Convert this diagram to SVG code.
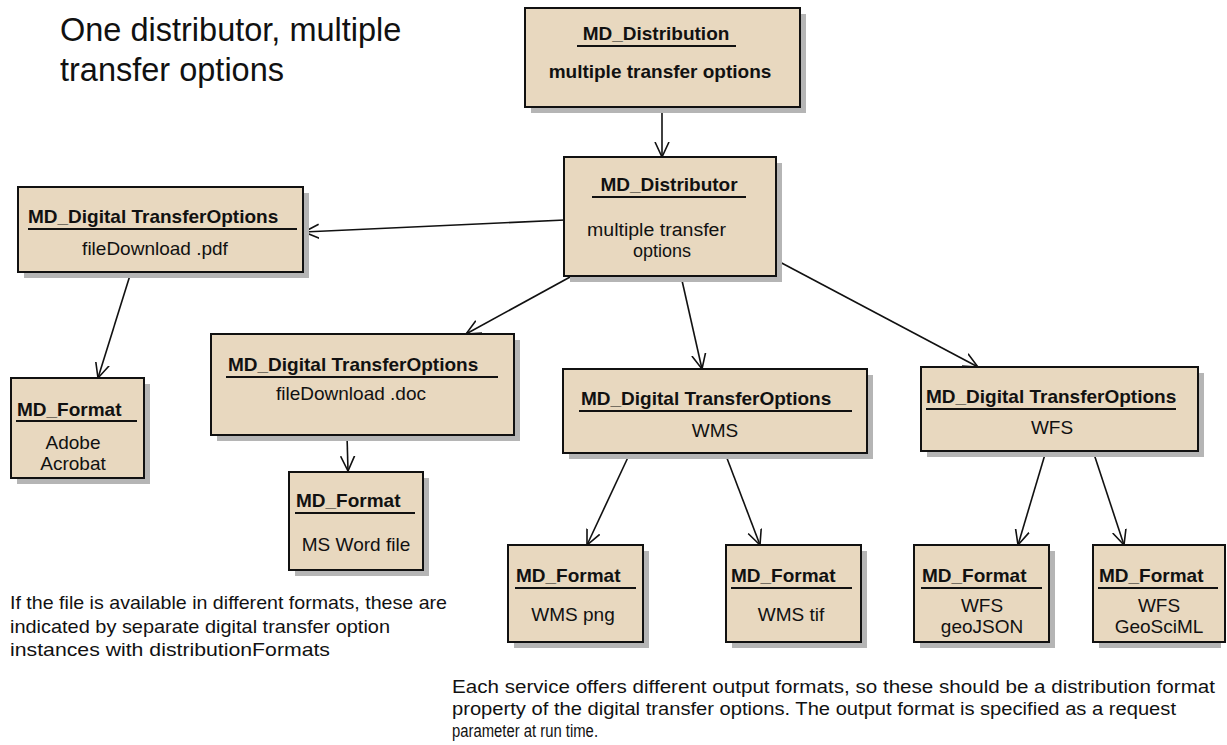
<svg xmlns="http://www.w3.org/2000/svg" width="1227" height="745" viewBox="0 0 1227 745">
<style>
.sh{fill:#b5b5b5}
.bx{fill:#e8d8bf;stroke:#111;stroke-width:2}
.t{font-family:"Liberation Sans",Arial,sans-serif;font-weight:bold;font-size:19px;fill:#111}
.b{font-family:"Liberation Sans",Arial,sans-serif;font-size:19px;fill:#111}
.ul{stroke:#111;stroke-width:2}
.c{stroke:#111;stroke-width:1.6;fill:none;marker-end:url(#ah)}
.note{font-family:"Liberation Sans",Arial,sans-serif;font-size:19px;fill:#111}
.note2{font-family:"Liberation Sans",Arial,sans-serif;font-size:17.5px;fill:#111}
.ttl{font-family:"Liberation Sans",Arial,sans-serif;font-size:32.5px;fill:#111}
</style>
<defs>
<marker id="ah" markerUnits="userSpaceOnUse" viewBox="0 0 16 16" refX="15" refY="8" markerWidth="16" markerHeight="16" orient="auto">
<path d="M0,1 L15,8 L0,15" fill="none" stroke="#111" stroke-width="1.6"/>
</marker>
</defs>
<rect width="1227" height="745" fill="#fff"/>
<g id="title">
<text class="ttl" x="60" y="41">One distributor, multiple</text>
<text class="ttl" x="60" y="81">transfer options</text>
</g>
<g id="connectors">
<line class="c" x1="662" y1="107" x2="662" y2="157"/>
<line class="c" x1="565" y1="220" x2="304" y2="232"/>
<line class="c" x1="131" y1="272" x2="98" y2="378"/>
<line class="c" x1="592" y1="265" x2="466" y2="334"/>
<line class="c" x1="347" y1="435" x2="348" y2="471"/>
<line class="c" x1="681" y1="276" x2="702" y2="369"/>
<line class="c" x1="776" y1="260" x2="978" y2="367"/>
<line class="c" x1="630" y1="453" x2="587" y2="545"/>
<line class="c" x1="725" y1="453" x2="760" y2="545"/>
<line class="c" x1="1046" y1="451" x2="1018" y2="545"/>
<line class="c" x1="1093" y1="451" x2="1124" y2="545"/>
</g>
<g id="distribution">
<rect class="sh" x="531" y="14" width="275" height="99"/>
<rect class="bx" x="525" y="8" width="275" height="99"/>
<text class="t" x="656" y="40" text-anchor="middle">MD_Distribution</text>
<line class="ul" x1="577" y1="46" x2="736" y2="46"/>
<text class="t" x="660" y="78" text-anchor="middle">multiple transfer options</text>
</g>
<g id="distributor">
<rect class="sh" x="570" y="163" width="212" height="119"/>
<rect class="bx" x="564" y="157" width="212" height="119"/>
<text class="t" x="669" y="191" text-anchor="middle">MD_Distributor</text>
<line class="ul" x1="592" y1="197" x2="746" y2="197"/>
<text class="b" x="587" y="236" style="font-size:18px" textLength="139" lengthAdjust="spacingAndGlyphs">multiple transfer</text>
<text class="b" x="633" y="257" style="font-size:18px">options</text>
</g>
<g id="dto-pdf">
<rect class="sh" x="24" y="193" width="285" height="85"/>
<rect class="bx" x="18" y="187" width="285" height="85"/>
<text class="t" x="28" y="223">MD_Digital TransferOptions</text>
<line class="ul" x1="28" y1="229" x2="297" y2="229"/>
<text class="b" x="155" y="255" text-anchor="middle">fileDownload .pdf</text>
</g>
<g id="fmt-acrobat">
<rect class="sh" x="17" y="384" width="133" height="100"/>
<rect class="bx" x="11" y="378" width="133" height="100"/>
<text class="t" x="17" y="416">MD_Format</text>
<line class="ul" x1="16" y1="421" x2="137" y2="421"/>
<text class="b" x="73" y="449" text-anchor="middle">Adobe</text>
<text class="b" x="73" y="470" text-anchor="middle">Acrobat</text>
</g>
<g id="dto-doc">
<rect class="sh" x="217" y="340" width="303" height="101"/>
<rect class="bx" x="211" y="334" width="303" height="101"/>
<text class="t" x="228" y="371">MD_Digital TransferOptions</text>
<line class="ul" x1="226" y1="377" x2="498" y2="377"/>
<text class="b" x="351" y="400" text-anchor="middle">fileDownload .doc</text>
</g>
<g id="fmt-word">
<rect class="sh" x="295" y="478" width="134" height="98"/>
<rect class="bx" x="289" y="472" width="134" height="98"/>
<text class="t" x="296" y="507">MD_Format</text>
<line class="ul" x1="295" y1="513" x2="415" y2="513"/>
<text class="b" x="356" y="551" text-anchor="middle">MS Word file</text>
</g>
<g id="dto-wms">
<rect class="sh" x="569" y="375" width="304" height="84"/>
<rect class="bx" x="563" y="369" width="304" height="84"/>
<text class="t" x="581" y="405">MD_Digital TransferOptions</text>
<line class="ul" x1="579" y1="411" x2="852" y2="411"/>
<text class="b" x="715" y="437" text-anchor="middle">WMS</text>
</g>
<g id="dto-wfs">
<rect class="sh" x="927" y="373" width="277" height="84"/>
<rect class="bx" x="921" y="367" width="277" height="84"/>
<text class="t" x="926" y="403">MD_Digital TransferOptions</text>
<line class="ul" x1="926" y1="409" x2="1176" y2="409"/>
<text class="b" x="1052" y="434" text-anchor="middle">WFS</text>
</g>
<g id="fmt-png">
<rect class="sh" x="514" y="551" width="135" height="97"/>
<rect class="bx" x="508" y="545" width="135" height="97"/>
<text class="t" x="516" y="582">MD_Format</text>
<line class="ul" x1="515" y1="588" x2="636" y2="588"/>
<text class="b" x="573" y="621" text-anchor="middle">WMS png</text>
</g>
<g id="fmt-tif">
<rect class="sh" x="732" y="551" width="135" height="97"/>
<rect class="bx" x="726" y="545" width="135" height="97"/>
<text class="t" x="731" y="582">MD_Format</text>
<line class="ul" x1="731" y1="588" x2="852" y2="588"/>
<text class="b" x="791" y="621" text-anchor="middle">WMS tif</text>
</g>
<g id="fmt-geojson">
<rect class="sh" x="920" y="551" width="135" height="97"/>
<rect class="bx" x="914" y="545" width="135" height="97"/>
<text class="t" x="922" y="582">MD_Format</text>
<line class="ul" x1="921" y1="588" x2="1042" y2="588"/>
<text class="b" x="982" y="612" text-anchor="middle">WFS</text>
<text class="b" x="982" y="633" text-anchor="middle">geoJSON</text>
</g>
<g id="fmt-geosciml">
<rect class="sh" x="1099" y="551" width="122" height="97"/>
<rect class="bx" x="1093" y="545" width="132" height="97"/>
<text class="t" x="1099" y="582">MD_Format</text>
<line class="ul" x1="1098" y1="588" x2="1218" y2="588"/>
<text class="b" x="1159" y="612" text-anchor="middle">WFS</text>
<text class="b" x="1159" y="633" text-anchor="middle">GeoSciML</text>
</g>
<g id="note-left">
<text class="note" x="10" y="609" textLength="437" lengthAdjust="spacingAndGlyphs">If the file is available in different formats, these are</text>
<text class="note" x="10" y="633" textLength="380" lengthAdjust="spacingAndGlyphs">indicated by separate digital transfer option</text>
<text class="note" x="10" y="656" textLength="320" lengthAdjust="spacingAndGlyphs">instances with distributionFormats</text>
</g>
<g id="note-right">
<text class="note2" x="452" y="693" textLength="763" lengthAdjust="spacingAndGlyphs">Each service offers different output formats, so these should be a distribution format</text>
<text class="note2" x="452" y="715" textLength="724" lengthAdjust="spacingAndGlyphs">property of the digital transfer options.  The output format is specified as a request</text>
<text class="note2" x="452" y="737" textLength="146" lengthAdjust="spacingAndGlyphs">parameter at run time.</text>
</g>
</svg>
